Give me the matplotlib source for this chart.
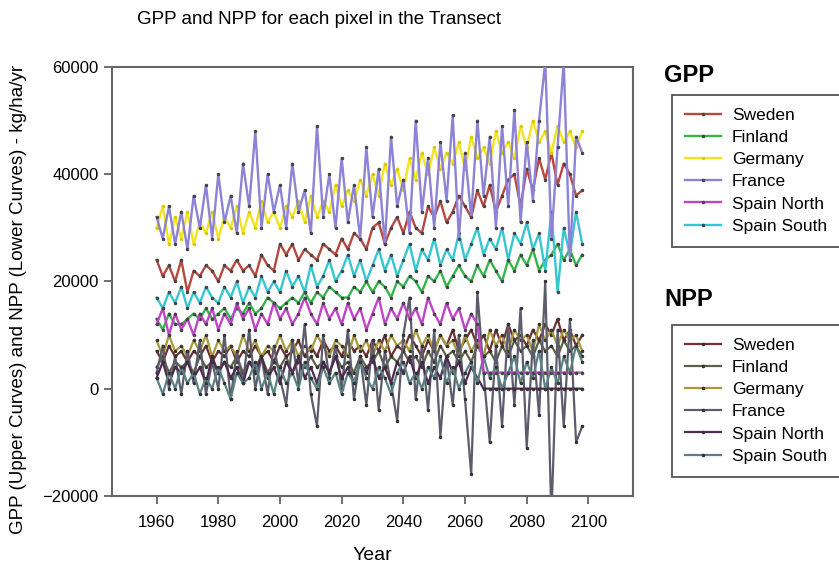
import matplotlib
matplotlib.use("Agg")
import matplotlib.pyplot as plt
import numpy as np

plt.rcParams['font.family'] = ['Liberation Sans', 'DejaVu Sans']

# simulation years, one value every second year
years = np.arange(1960, 2100, 2)

# GPP per pixel, thousands of kg/ha/yr
gpp_sweden = [24, 21, 23, 20, 24, 18, 22, 21, 23, 22,
              20, 23, 22, 24, 22, 23, 21, 25, 23, 22,
              27, 25, 27, 24, 26, 25, 24, 27, 26, 25,
              28, 26, 29, 28, 26, 30, 31, 27, 30, 32,
              29, 33, 30, 29, 34, 32, 35, 31, 33, 36,
              34, 32, 37, 34, 38, 33, 36, 39, 40, 34,
              41, 37, 43, 39, 44, 38, 42, 40, 36, 37]
gpp_finland = [13, 11, 14, 12, 12, 13, 14, 13, 15, 13,
               14, 15, 13, 15, 14, 16, 14, 15, 17, 16,
               15, 16, 17, 16, 18, 16, 18, 17, 19, 18,
               17, 17, 19, 18, 20, 18, 20, 19, 17, 20,
               19, 21, 20, 18, 21, 20, 22, 19, 21, 23,
               21, 20, 23, 21, 24, 22, 20, 24, 22, 25,
               23, 26, 22, 24, 25, 27, 24, 26, 23, 25]
gpp_germany = [30, 34, 27, 32, 28, 33, 27, 31, 29, 33,
               28, 32, 30, 34, 29, 33, 30, 35, 31, 33,
               30, 34, 32, 35, 31, 36, 32, 35, 33, 38,
               34, 37, 35, 39, 36, 40, 36, 42, 38, 41,
               37, 43, 39, 44, 40, 45, 41, 44, 42, 46,
               41, 47, 43, 45, 42, 48, 44, 46, 43, 49,
               45, 50, 46, 48, 44, 49, 46, 48, 45, 48]
gpp_france = [32, 28, 34, 27, 33, 26, 36, 30, 38, 28,
              40, 31, 36, 29, 42, 34, 48, 30, 40, 33,
              38, 30, 42, 33, 37, 29, 49, 32, 40, 30,
              43, 31, 38, 28, 45, 32, 41, 27, 47, 34,
              39, 29, 50, 33, 43, 30, 46, 35, 51, 28,
              44, 32, 50, 36, 47, 30, 49, 34, 52, 31,
              46, 35, 50, 61, 28, 45, 61, 24, 47, 44]
gpp_spain_north = [12, 15, 10, 14, 11, 13, 10, 14, 12, 15,
                   11, 14, 12, 16, 13, 15, 11, 14, 12, 16,
                   13, 15, 12, 14, 17, 14, 12, 16, 13, 15,
                   12, 16, 13, 15, 11, 14, 17, 12, 15, 13,
                   16, 13, 15, 12, 17, 14, 12, 16, 13, 15,
                   11, 14, 12, 3, 3, 3, 3, 3, 3, 3,
                   3, 3, 3, 3, 3, 3, 3, 3, 3, 3]
gpp_spain_south = [17, 15, 18, 16, 19, 15, 18, 16, 19, 17,
                   16, 19, 17, 20, 16, 19, 17, 21, 18, 20,
                   18, 22, 19, 21, 18, 23, 19, 21, 24, 20,
                   22, 25, 21, 24, 20, 23, 26, 22, 25, 21,
                   24, 27, 22, 26, 24, 28, 23, 26, 24, 29,
                   24, 27, 30, 25, 28, 26, 30, 24, 29, 27,
                   31, 26, 29, 22, 33, 18, 30, 25, 33, 27]

# NPP per pixel, thousands of kg/ha/yr
npp_sweden = [7, 5, 8, 6, 7, 5, 7, 6, 8, 5,
              7, 6, 8, 5, 7, 6, 8, 6, 7, 5,
              8, 6, 7, 9, 6, 8, 6, 9, 7, 8,
              6, 9, 7, 8, 6, 9, 7, 10, 6, 8,
              7, 10, 8, 6, 9, 7, 10, 8, 11, 7,
              9, 11, 8, 10, 7, 11, 8, 12, 9, 10,
              8, 11, 9, 12, 10, 13, 9, 11, 8, 10]
npp_finland = [4, 6, 3, 5, 4, 5, 3, 6, 4, 5,
               3, 5, 4, 6, 3, 5, 4, 6, 3, 5,
               4, 6, 3, 5, 4, 6, 4, 5, 3, 6,
               4, 5, 3, 6, 4, 5, 7, 4, 6, 5,
               7, 5, 6, 4, 7, 5, 8, 6, 7, 5,
               7, 5, 8, 6, 7, 5, 8, 6, 9, 7,
               8, 6, 9, 7, 8, 6, 9, 7, 8, 6]
npp_germany = [9, 6, 10, 7, 8, 6, 9, 7, 10, 6,
               9, 7, 8, 6, 10, 7, 9, 6, 8, 7,
               10, 7, 9, 6, 8, 7, 10, 8, 6, 9,
               8, 6, 10, 7, 9, 6, 9, 7, 10, 8,
               9, 7, 11, 8, 10, 7, 10, 8, 9, 6,
               10, 7, 9, 6, 11, 8, 10, 7, 11, 9,
               10, 7, 12, 9, 11, 8, 11, 9, 10, 7]
npp_france = [3, 8, 0, 6, -1, 7, 1, 9, -1, 5,
              0, 10, -2, 7, 1, 11, 0, 6, -1, 8,
              2, -3, 9, 1, 12, -1, -7, 10, 2, 8,
              0, 11, -2, 6, -3, 9, -4, 7, 1, -6,
              10, 17, -2, 8, -4, 11, -9, 6, -3, 10,
              -2, -16, 18, 3, -10, 8, -7, 12, -3, 15,
              -11, 9, -5, 20, -24, 11, -7, 13, -10, -7]
npp_spain_north = [2, 5, 1, 4, 3, 5, 2, 4, 1, 6,
                   3, 5, 2, 4, 1, 5, 3, 6, 2, 4,
                   1, 5, 3, 6, 2, 4, 1, 5, 3, 6,
                   2, 4, 1, 5, 3, 6, 2, 4, 1, 5,
                   3, 6, 2, 5, 1, 4, 2, 6, 3, 5,
                   1, 4, 2, 0, 0, 0, 0, 0, 0, 0,
                   0, 0, 0, 0, 0, 0, 0, 0, 0, 0]
npp_spain_south = [2, -1, 3, 0, 4, 1, 3, -1, 2, 0,
                   4, 1, -2, 3, 1, 2, 5, 0, 3, -1,
                   4, 1, 3, 0, 5, 2, 0, 4, 1, 3,
                   -1, 3, 1, 5, 2, 0, 4, 2, -1, 3,
                   5, 1, 3, 0, 4, 2, 6, 1, 4, 0,
                   3, 5, 1, 6, 2, 4, 0, 3, 6, 1,
                   5, 2, 7, 0, 4, 1, 6, 3, 8, 5]

countries = ["Sweden", "Finland", "Germany", "France", "Spain North", "Spain South"]
gpp_data = [gpp_sweden, gpp_finland, gpp_germany, gpp_france, gpp_spain_north, gpp_spain_south]
npp_data = [npp_sweden, npp_finland, npp_germany, npp_france, npp_spain_north, npp_spain_south]
gpp_colors = ["#b5483f", "#34b54a", "#f2e41e", "#8c82d6", "#c044c8", "#36c6d0"]
npp_colors = ["#6e3030", "#5f6048", "#a89a3c", "#5c5c6c", "#4e2c52", "#5a8282"]

fig = plt.figure(figsize=(8.39, 5.68), dpi=100)
ax = fig.add_axes([0.133, 0.127, 0.622, 0.755])

npp_handles = []
for name, vals, col in zip(countries, npp_data, npp_colors):
    h, = ax.plot(years, np.array(vals) * 1000, color=col, lw=1.6,
                 marker='.', ms=3, mfc="#333333", mec="#333333", label=name,
                 solid_joinstyle='round')
    npp_handles.append(h)

gpp_handles = []
for name, vals, col in zip(countries, gpp_data, gpp_colors):
    mk = "#444444" if name != "Germany" else "#d8c800"
    h, = ax.plot(years, np.array(vals) * 1000, color=col, lw=1.7,
                 marker='.', ms=3, mfc=mk, mec=mk, label=name,
                 solid_joinstyle='round')
    gpp_handles.append(h)
# France sits on top of the other GPP curves
gpp_handles[3].set_zorder(3)

ax.set_xlim(1945.4, 2114.6)
ax.set_ylim(-20000, 60000)
ax.set_xticks(range(1960, 2101, 20))
ax.set_yticks(range(-20000, 60001, 20000))
ax.tick_params(direction='out', length=6, width=1.2, labelsize=12, color="#555555")
ax.tick_params(axis='x', pad=8)
for sp in ax.spines.values():
    sp.set_color("#666666")
    sp.set_linewidth(1.5)

ax.set_xlabel("Year", fontsize=14, labelpad=12)
ax.set_ylabel("GPP (Upper Curves) and NPP (Lower Curves) - kg/ha/yr", fontsize=13.5)
ax.yaxis.set_label_coords(-0.163, 0.457)
fig.text(319 / 839, 1 - 20 / 568, "GPP and NPP for each pixel in the Transect",
         ha='center', va='center', fontsize=13.5)

fig.text(664 / 839, 1 - 75 / 568, "GPP", fontsize=17, fontweight='bold', va='center')
fig.text(664 / 839, 1 - 300 / 568, "NPP", fontsize=17, fontweight='bold', va='center')

leg_kw = dict(loc='upper left', fontsize=12.5, handlelength=2.1, handletextpad=0.6,
              labelspacing=0.4, borderpad=0.75, borderaxespad=0,
              fancybox=False, edgecolor="#555555", framealpha=1)
leg1 = fig.legend(handles=gpp_handles, bbox_to_anchor=(672 / 839, 1 - 95 / 568), **leg_kw)
leg2 = fig.legend(handles=npp_handles, bbox_to_anchor=(672 / 839, 1 - 325 / 568), **leg_kw)
for leg in (leg1, leg2):
    leg.get_frame().set_linewidth(1.3)

fig.savefig("out.png", dpi=100)
